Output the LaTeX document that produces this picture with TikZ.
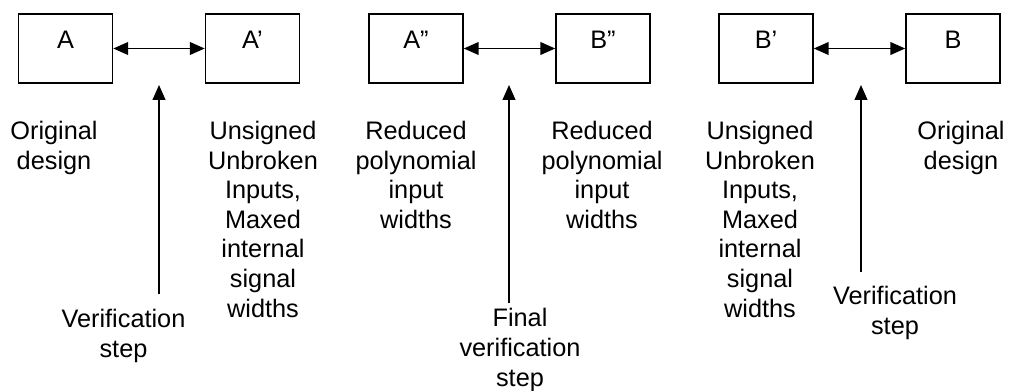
\documentclass[tikz,border=0pt]{standalone}
\usepackage{fontspec}
\setmainfont{Liberation Sans}
\usepackage{tikz}
\usetikzlibrary{arrows.meta}
\tikzstyle{flow}=[line width=1.1pt, draw=black, font=\fontsize{18}{21}\selectfont]
\tikzstyle{blk}=[draw, minimum width=2.35cm, minimum height=1.725cm, text height=12pt, text depth=12pt]
\tikzstyle{txt}=[align=center, inner sep=0pt, anchor=base]
\tikzstyle{edge}=[{Triangle[length=10.5pt, width=9pt]}-{Triangle[length=10.5pt, width=9pt]}]
\tikzstyle{check}=[-{Triangle[length=10.5pt, width=9pt]}]

\begin{document}
\begin{tikzpicture}[flow, x=0.025cm, y=-0.025cm]
	\useasboundingbox (0,0) rectangle (1010,390);
	\draw (65.5,48.5) node[blk] (A) {A};
	\draw (252.5,48.5) node[blk] (A1) {A’};
	\draw (416,48.5) node[blk] (A2) {A”};
	\draw (603,48.5) node[blk] (B2) {B”};
	\draw (766,48.5) node[blk] (B1) {B’};
	\draw (953,48.5) node[blk] (B) {B};
	\draw[edge] (A) -- (A1);
	\draw[edge] (A2) -- (B2);
	\draw[edge] (B1) -- (B);
	% anchor=base sits on the last line
	\draw (54,169.5) node[txt] (orgA) {Original\\design};
	\draw (263,317) node[txt] (unsA) {Unsigned\\Unbroken\\Inputs,\\Maxed\\internal\\signal\\widths};
	\draw (416,228.5) node[txt] (redA) {Reduced\\polynomial\\input\\widths};
	\draw (602,228.5) node[txt] (redB) {Reduced\\polynomial\\input\\widths};
	\draw (760,317) node[txt] (unsB) {Unsigned\\Unbroken\\Inputs,\\Maxed\\internal\\signal\\widths};
	\draw (961,169.5) node[txt] (orgB) {Original\\design};
	\draw (123.5,357) node[txt] (ver1) {Verification\\step};
	\draw (520,386) node[txt] (verfin) {Final\\verification\\step};
	\draw (895,334) node[txt] (ver2) {Verification\\step};
	\coordinate (s1top) at (159,85);
	\coordinate (s1bot) at (159,294);
	\coordinate (s2top) at (509,85);
	\coordinate (s2bot) at (509,303);
	\coordinate (s3top) at (861,85);
	\coordinate (s3bot) at (861,272);
	\draw[check] (s1bot) -- (s1top);
	\draw[check] (s2bot) -- (s2top);
	\draw[check] (s3bot) -- (s3top);
\end{tikzpicture}
\end{document}
